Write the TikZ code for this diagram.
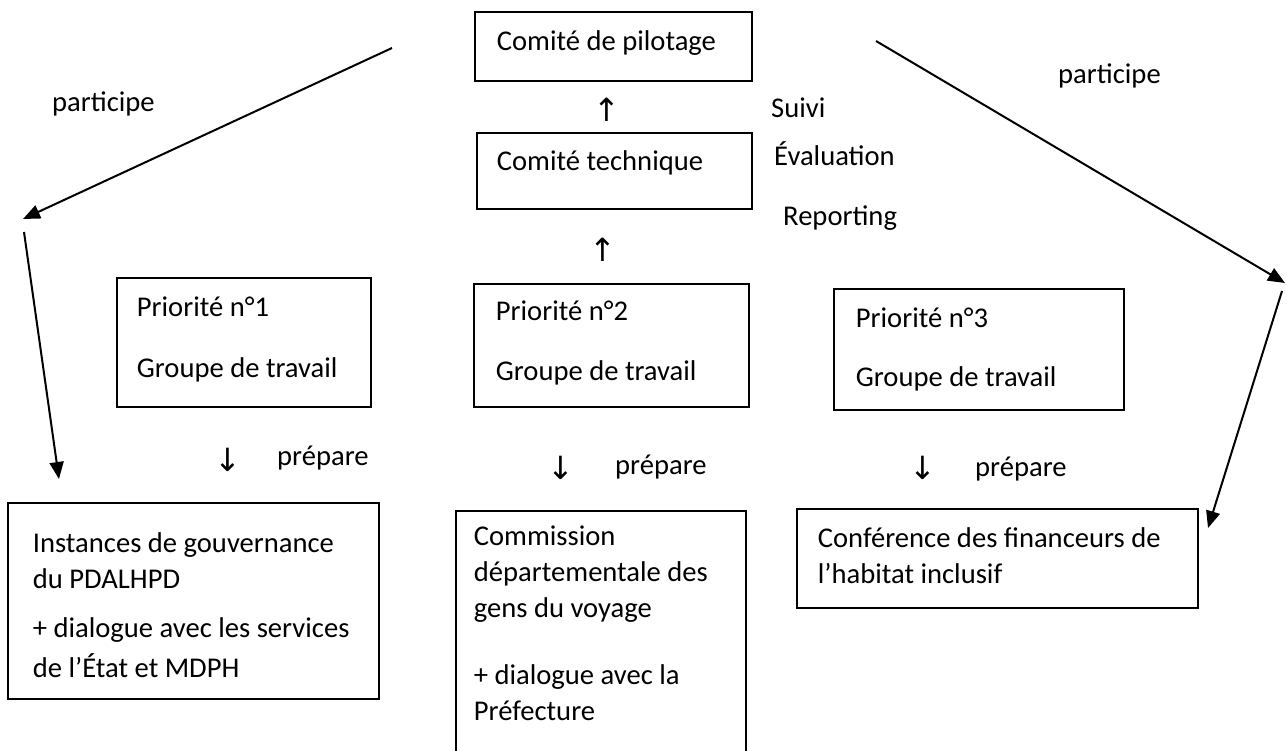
\documentclass[tikz,border=0pt]{standalone}
\usepackage{fontspec}
\setmainfont{Carlito}
\newfontfamily\flechefont{DejaVu Sans}
\usepackage{xcolor}
\usepackage{tikz}
\usetikzlibrary{arrows.meta}
\hyphenpenalty=10000
\exhyphenpenalty=10000

\begin{document}
\begin{tikzpicture}[x=1pt, y=-1pt, >={Triangle[length=17pt, width=14pt]},
    font=\fontsize{28.6}{36}\selectfont,
    cadre/.style={rectangle, draw, line width=1.8pt, anchor=north west, align=flush left, inner ysep=0pt},
    mot/.style={anchor=base west, inner sep=0pt},
    fleche/.style={font=\flechefont\fontsize{32}{32}\selectfont, inner sep=0pt}]
    \path[use as bounding box, fill=white] (0,0) rectangle (1287,751);

    \node[cadre, inner xsep=22pt, text width=233pt, text height=39pt, text depth=30pt] (pilotage) at (474,11) {Comité de pilotage};
    \node[cadre, inner xsep=20pt, text width=235pt, text height=38pt, text depth=38pt] (technique) at (476,132) {Comité technique};
    \node[cadre, inner xsep=20pt, text width=214pt, text height=39pt, text depth=90pt] (prio1) at (116,277) {Priorité n°1\\[25pt]Groupe de travail};
    \node[cadre, inner xsep=22pt, text width=231pt, text height=37pt, text depth=86pt] (prio2) at (473,283) {Priorité n°2\\[24pt]Groupe de travail};
    \node[cadre, inner xsep=22pt, text width=246pt, text height=39pt, text depth=82pt] (prio3) at (833,288) {Priorité n°3\\[23pt]Groupe de travail};
    \node[cadre, inner xsep=25pt, text width=321pt, text height=50pt, text depth=146pt] (instances) at (7,502) {Instances de gouvernance\\du PDALHPD\\[13pt]+ dialogue avec les services\\[4pt]de l’État et MDPH};
    \node[cadre, inner xsep=18pt, text width=254pt, text height=35pt, text depth=250pt] (commission) at (455,510) {Commission\\départementale des\\gens du voyage\\[31pt]+ dialogue avec la\\Préfecture};
    \node[cadre, inner xsep=21pt, text width=359pt, text height=39pt, text depth=60pt] (conference) at (796,508) {Conférence des financeurs de\\l’habitat inclusif};

    \node[fleche] (haut1) at (607,110) {↑};
    \node[fleche] (haut2) at (603,250) {↑};
    \node[mot] (suivi) at (771,118) {Suivi};
    \node[mot] (evaluation) at (774,166) {Évaluation};
    \node[mot] (reporting) at (783,226) {Reporting};

    \node[fleche] (bas1) at (228,460) {↓};
    \node[fleche] (bas2) at (561,468) {↓};
    \node[fleche] (bas3) at (923,468) {↓};
    \node[mot] (prepare1) at (277,465) {prépare};
    \node[mot] (prepare2) at (615,474) {prépare};
    \node[mot] (prepare3) at (975,476) {prépare};

    \node[mot] (participeG) at (52,112) {participe};
    \node[mot] (participeD) at (1058,84) {participe};

    \coordinate (gA) at (392,48);
    \coordinate (gB) at (23,219);
    \coordinate (gC) at (24,232);
    \coordinate (gD) at (59,479);
    \coordinate (dA) at (876,41);
    \coordinate (dB) at (1285,283);
    \coordinate (dC) at (1282,291);
    \coordinate (dD) at (1208,528);

    \draw[->, line width=2pt] (gA) -- (gB);
    \draw[->, line width=2pt] (gC) -- (gD);
    \draw[->, line width=2pt] (dA) -- (dB);
    \draw[->, line width=2pt] (dC) -- (dD);
\end{tikzpicture}
\end{document}
